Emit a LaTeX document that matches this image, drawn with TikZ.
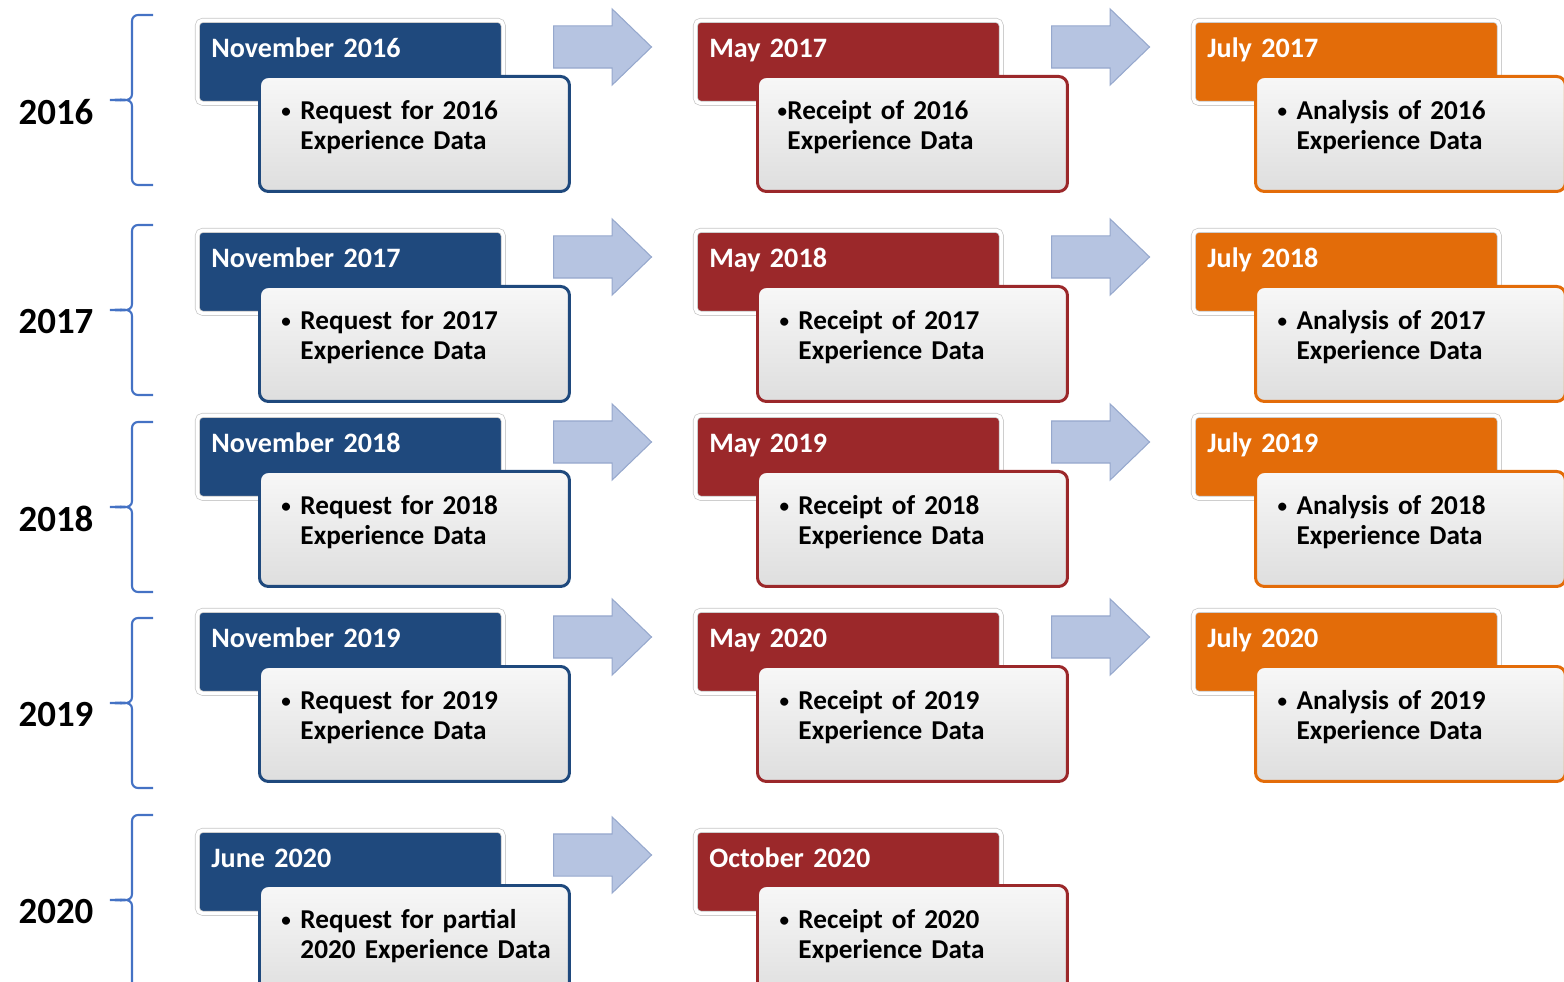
\documentclass[tikz,border=0pt]{standalone}
\usepackage{fontspec}
\setmainfont{Carlito}
\usepackage{xcolor}
\usetikzlibrary{shapes.arrows}

\definecolor{hdrblue}{RGB}{31,73,125}
\definecolor{hdrred}{RGB}{155,40,42}
\definecolor{hdrorange}{RGB}{227,108,9}
\definecolor{bracecol}{RGB}{68,114,196}
\definecolor{arrowfill}{RGB}{182,196,225}
\definecolor{arrowline}{RGB}{150,168,205}

\newcommand{\smallbullet}{\raisebox{0.08em}{\scalebox{0.7}{\textbullet}}}
\newcommand{\itemline}[3]{\hspace*{#1}\makebox[#2][l]{\smallbullet}#3}
\newcommand{\contline}[3]{\hspace*{#1}\hspace*{#2}#3}
\newcommand{\tailstrut}{\rule[-0.37cm]{0pt}{0pt}}

\begin{document}
\begin{tikzpicture}[x=0.02cm,y=-0.02cm,
header/.style={
% The shape:
rectangle,rounded corners=3pt,anchor=north west,
text width=5.56cm,inner xsep=0.28cm,inner ysep=0.3cm,
text height=0.44cm,text depth=0.62cm,
% The rest
fill=#1,draw=black!22,double=white,double distance=2pt,line width=0.4pt,
text=white,align=left,font=\bfseries\fontsize{16}{19}\selectfont},
entry/.style={
% The shape:
rectangle,rounded corners=5pt,anchor=north west,
text width=5.8cm,inner xsep=0.2cm,minimum height=2.3cm,
% The rest
draw=#1,line width=1.7pt,top color=black!3,bottom color=black!13,
text=black,align=left,font=\bfseries\fontsize{15.5}{17}\selectfont},
flow/.style={
single arrow,single arrow head extend=0.34cm,single arrow tip angle=88,
inner xsep=0pt,inner ysep=0.41cm,minimum height=1.96cm,anchor=west,
fill=arrowfill,draw=arrowline,line width=0.6pt},
brace/.style={draw=bracecol,line width=1.2pt},
year/.style={font=\bfseries\fontsize{21}{25}\selectfont}]

\useasboundingbox (0,0) rectangle (1564,982);
\clip (0,0) rectangle (1564,982);

% one row per year: header top, year, next year, brace top
\foreach \t/\yr/\nx/\bt in {20/2016/2017/15, 230/2017/2018/225, 415/2018/2019/422, 610/2019/2020/618}{
\ifnum\yr=2016 \def\ri{0.2cm}\def\rb{0.2cm}\else\def\ri{0.24cm}\def\rb{0.38cm}\fi
\node (year-\yr) [year] at (56,\bt+97) {\yr};
\draw[brace] (153,\bt) -- (138,\bt) to[out=180,in=90] (132,\bt+6) -- (132,\bt+79)
  to[out=-90,in=0] (110,\bt+85) to[out=0,in=90] (132,\bt+91) -- (132,\bt+164)
  to[out=-90,in=180] (138,\bt+170) -- (153,\bt+170);

\node (nov-\yr) [header=hdrblue] at (197,\t) {November \yr};
\node (req-\yr) [entry=hdrblue] at (258,\t+55)
  {\itemline{0.24cm}{0.38cm}{Request for \yr}\\\contline{0.24cm}{0.38cm}{Experience Data}\tailstrut};
\node (may-\nx) [header=hdrred] at (695,\t) {May \nx};
\node (rec-\yr) [entry=hdrred] at (756,\t+55)
  {\itemline{\ri}{\rb}{Receipt of \yr}\\\contline{\ri}{\rb}{Experience Data}\tailstrut};
\node (jul-\nx) [header=hdrorange] at (1193,\t) {July \nx};
\node (ana-\yr) [entry=hdrorange] at (1254,\t+55)
  {\itemline{0.24cm}{0.38cm}{Analysis of \yr}\\\contline{0.24cm}{0.38cm}{Experience Data}\tailstrut};

\node (arrA-\yr) [flow] at (553,\t+27) {};
\node (arrB-\yr) [flow] at (1051,\t+27) {};
}

% last row, partial year
\node (year-2020) [year] at (56,912) {2020};
\draw[brace] (153,815) -- (138,815) to[out=180,in=90] (132,821) -- (132,894)
  to[out=-90,in=0] (110,900) to[out=0,in=90] (132,906) -- (132,990);
\node (jun-2020) [header=hdrblue] at (197,830) {June 2020};
\node (req-2020) [entry=hdrblue] at (258,884)
  {\itemline{0.24cm}{0.38cm}{Request for partial}\\\contline{0.24cm}{0.38cm}{2020 Experience Data}\tailstrut};
\node (oct-2020) [header=hdrred] at (695,830) {October 2020};
\node (rec-2020) [entry=hdrred] at (756,884)
  {\itemline{0.24cm}{0.38cm}{Receipt of 2020}\\\contline{0.24cm}{0.38cm}{Experience Data}\tailstrut};
\node (arrA-2020) [flow] at (553,855) {};

\end{tikzpicture}
\end{document}
